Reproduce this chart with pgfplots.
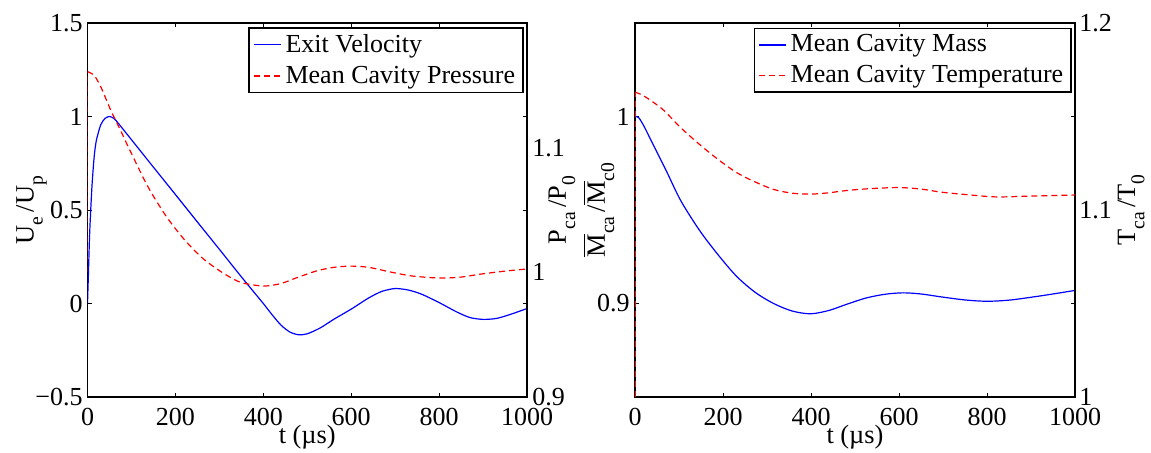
\documentclass[border=0pt]{standalone}
\usepackage{fontspec}
\setmainfont{Liberation Serif}
\usepackage{pgfplots}
\pgfplotsset{compat=1.18}
\newcommand\sbs[1]{\raisebox{-0.35em}{\fontsize{9.8}{9.8}\selectfont #1}}
\newcommand\Mb{$\overline{\mbox{M}}$}
\tikzset{lbl/.style={font=\fontsize{13.2}{15}\selectfont}}
\pgfplotsset{
  myaxis/.style={
    scale only axis, height=187pt,
    xmin=0, xmax=1000,
    axis line style={line width=0.8pt},
    tick style={line width=0.5pt, black},
    major tick length=2pt,
    tick align=inside,
    tick label style={font=\fontsize{13}{15}\selectfont},
    scaled ticks=false,
  },
  blueline/.style={draw=blue, line width=0.6pt},
  redline/.style={draw=red, line width=0.6pt, dash pattern=on 3pt off 2pt},
  mylegend/.style={
    legend style={anchor=north east, line width=0.8pt, fill=white,
      font=\fontsize{13}{15}\selectfont, inner xsep=2pt, inner ysep=1.2pt, row sep=1.3pt, cells={anchor=west}},
  },
  legblue/.style={legend image code/.code={\draw[draw=blue, line width=0.65pt, solid] (0pt,0pt) -- (13.5pt,0pt);}},
  legred/.style={legend image code/.code={\draw[draw=red, line width=0.65pt, solid]
     (0pt,0pt) -- (3pt,0pt) (5pt,0pt) -- (8pt,0pt) (10pt,0pt) -- (13pt,0pt);}},
}
\begin{document}
\begin{tikzpicture}
\useasboundingbox (0,0) rectangle (575.5pt,226pt);
% ---------- left panel ----------
\begin{axis}[myaxis, width=219.75pt, at={(43.75pt,27.5pt)}, anchor=south west,
  ymin=-0.5, ymax=1.5, ytick={-0.5,0,0.5,1,1.5}, yticklabels={−0.5,0,0.5,1,1.5},
  xtick={0,200,400,600,800,1000}, xticklabels={0,200,400,600,800,1000},
  xtick pos=both, xticklabel pos=bottom, ytick pos=both, yticklabel pos=left,
  xticklabel style={anchor=base, yshift=-14pt},
  yticklabel style={anchor=east, inner sep=0pt, xshift=-2.25pt},
  xlabel={t (µs)}, xlabel style={lbl, at={(axis description cs:0.5,0)}, anchor=base, inner sep=0pt, yshift=-23pt},
  ylabel={U\sbs{e}\,/U\sbs{p}}, ylabel style={lbl, at={(axis description cs:-0.1274,0.5)}, anchor=center},
]
\addplot[blueline, smooth, tension=0.45] coordinates {
(0,0) (2,0.15) (5,0.38) (10,0.62) (15,0.78) (20,0.87) (30,0.955) (40,0.99) (50,1.0) (60,0.99) (70,0.964)
(100,0.876) (150,0.729) (200,0.583) (250,0.436) (300,0.29) (350,0.143) (380,0.057) (400,0.0)
(420,-0.06) (440,-0.115) (460,-0.152) (480,-0.167) (500,-0.162) (530,-0.13) (560,-0.085) (600,-0.03)
(640,0.03) (670,0.065) (700,0.08) (730,0.072) (760,0.05) (800,0.005) (840,-0.045) (870,-0.075)
(900,-0.085) (930,-0.08) (960,-0.06) (1000,-0.027)
};
\end{axis}
\begin{axis}[myaxis, mylegend, legend style={at={(0.9932,0.9893)}},
  width=219.75pt, at={(43.75pt,27.5pt)}, anchor=south west,
  axis x line=none, axis y line*=right,
  ymin=0.9, ymax=1.2, ytick={0.9,1,1.1}, yticklabels={0.9,1,1.1},
  major tick length=0pt,
  yticklabel style={anchor=west, inner sep=0pt, xshift=2.5pt},
  ylabel={P\sbs{ca}\,/P\sbs{0}}, ylabel style={lbl, at={(axis description cs:1.0796,0.5)}, anchor=center},
]
\addlegendimage{legblue}
\addlegendentry{Exit Velocity}
\addlegendimage{legred}
\addlegendentry{Mean Cavity Pressure}
\addplot[redline, smooth, tension=0.45, forget plot] coordinates {
(0,1.161) (15,1.158) (30,1.149) (53,1.130) (75,1.114) (95,1.099) (137,1.069) (179,1.045)
(221,1.026) (263,1.011) (306,1.0) (348,0.992) (400,0.989) (440,0.991) (474,0.9954) (520,1.001)
(560,1.004) (600,1.005) (640,1.004) (693,1.0) (740,0.997) (802,0.9954) (850,0.9962) (895,0.9986)
(950,1.001) (1000,1.0027)
};
\addplot[redline, forget plot] coordinates {(0,1.0) (0,1.161)};
\end{axis}
% ---------- right panel ----------
\begin{axis}[myaxis, width=220pt, at={(317.5pt,27.5pt)}, anchor=south west,
  ymin=0.85, ymax=1.05, ytick={0.9,1}, yticklabels={0.9,1},
  xtick={0,200,400,600,800,1000}, xticklabels={0,200,400,600,800,1000},
  xtick pos=both, xticklabel pos=bottom, ytick pos=both, yticklabel pos=left,
  xticklabel style={anchor=base, yshift=-14pt},
  yticklabel style={anchor=east, inner sep=0pt, xshift=-2.5pt},
  xlabel={t (µs)}, xlabel style={lbl, at={(axis description cs:0.5,0)}, anchor=base, inner sep=0pt, yshift=-23pt},
  ylabel={\Mb\sbs{ca}\,/\Mb\sbs{c0}}, ylabel style={lbl, at={(axis description cs:-0.0818,0.5)}, anchor=center},
]
\addplot[blueline, smooth, tension=0.5] coordinates {
(0,1.0) (8,0.9995) (20,0.995) (37,0.987) (71,0.971) (104,0.955) (147,0.939) (189,0.926) (231,0.9145)
(273,0.906) (315,0.900) (357,0.896) (399,0.8945) (441,0.8963) (480,0.8995) (526,0.903) (570,0.9050)
(610,0.9057) (650,0.9051) (694,0.9036) (750,0.9019) (800,0.9012) (850,0.9018) (905,0.9035) (950,0.9051) (1000,0.907)
};
\end{axis}
\begin{axis}[myaxis, mylegend, legend style={at={(0.9932,0.9878)}},
  width=220pt, at={(317.5pt,27.5pt)}, anchor=south west,
  axis x line=none, axis y line*=right,
  ymin=1, ymax=1.2, ytick={1,1.1,1.2}, yticklabels={1,1.1,1.2},
  major tick length=0pt,
  yticklabel style={anchor=west, inner sep=0pt, xshift=2pt},
  ylabel={T\sbs{ca}\,/T\sbs{0}}, ylabel style={lbl, at={(axis description cs:1.1273,0.5)}, anchor=center},
]
\addlegendimage{legblue}
\addlegendentry{Mean Cavity Mass}
\addlegendimage{legred}
\addlegendentry{Mean Cavity Temperature}
\addplot[redline, smooth, tension=0.5, forget plot] coordinates {
(0,1.163) (20,1.161) (62,1.154) (104,1.144) (147,1.135) (189,1.127) (231,1.120) (273,1.115)
(315,1.111) (357,1.109) (399,1.1085) (440,1.1092) (484,1.1105) (540,1.1115) (601,1.112) (650,1.1112)
(694,1.1096) (750,1.1083) (821,1.107) (905,1.1075) (1000,1.108)
};
\addplot[redline, forget plot] coordinates {(0,1.0) (0,1.163)};
\end{axis}
\end{tikzpicture}
\end{document}
